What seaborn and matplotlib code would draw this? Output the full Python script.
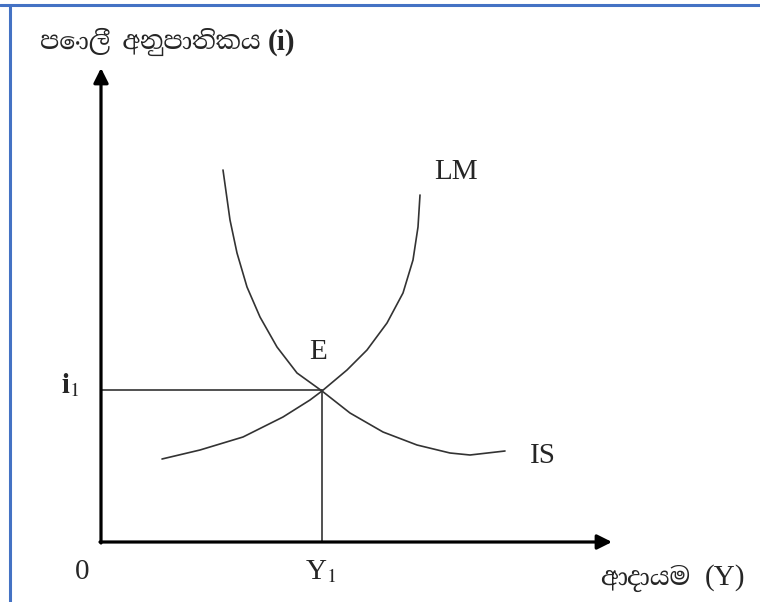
import matplotlib
matplotlib.use('Agg')
import matplotlib.pyplot as plt
import seaborn as sns
import pandas as pd
from matplotlib import font_manager

# IS-LM diagram, coordinates measured from the origin
lm_x = [61, 99, 142, 182, 209, 221, 246, 266, 286, 302, 312, 317, 319]
lm_y = [83, 92, 105, 125, 142, 151, 172, 192, 219, 249, 282, 315, 347]
is_x = [122, 129, 136, 146, 159, 176, 196, 221, 249, 282, 316, 349, 369, 404]
is_y = [372, 322, 289, 255, 225, 195, 169, 151, 129, 110, 97, 89, 87, 91]
eq_y1 = 221
eq_i1 = 152

y_label = 'පොලී අනුපාතිකය'
x_label = 'ආදායම'

sns.set_style('white')
names = sorted({f.name for f in font_manager.fontManager.ttflist})
sinhala = [n for n in names if 'Sinhala' in n]
print(sinhala)
sinhala.sort(key=lambda n: 'Serif' not in n)
plt.rcParams['font.family'] = ['Liberation Serif', 'DejaVu Serif']
plt.rcParams['mathtext.fontset'] = 'stix'

curves = pd.concat([
    pd.DataFrame({'x': lm_x, 'y': lm_y, 'curve': 'LM'}),
    pd.DataFrame({'x': is_x, 'y': is_y, 'curve': 'IS'}),
])

fig = plt.figure(figsize=(7.6, 6.02), dpi=100)
ax = fig.add_axes([0, 0, 1, 1])
ax.set_xlim(-101, 659)
ax.set_ylim(-60, 542)
ax.axis('off')

sns.lineplot(data=curves, x='x', y='y', hue='curve', palette=['#333333', '#333333'],
             sort=False, estimator=None, linewidth=1.2, legend=False, ax=ax)

# guide lines to the equilibrium
ax.plot([0, eq_y1], [eq_i1, eq_i1], color='#333333', lw=1.2)
ax.plot([eq_y1, eq_y1], [0, eq_i1], color='#333333', lw=1.2)

# axes with arrow heads
arrow = dict(arrowstyle='-|>', lw=2.3, color='black', mutation_scale=22, shrinkA=0, shrinkB=0)
ax.annotate('', xy=(0, 474), xytext=(0, -1), arrowprops=arrow)
ax.annotate('', xy=(511, 0), xytext=(-1, 0), arrowprops=arrow)

fs = 21
ax.text(355, 370, 'LM', fontsize=fs, ha='center', va='center')
ax.text(442, 86, 'IS', fontsize=fs, ha='center', va='center')
ax.text(217, 190, 'E', fontsize=fs, ha='center', va='center')
ax.text(-31, 157, r'$\mathbf{i}_1$', fontsize=fs, ha='center', va='center')
ax.text(220, -30, r'Y$_1$', fontsize=fs, ha='center', va='center')
ax.text(-19, -30, '0', fontsize=fs, ha='center', va='center')

sin_fam = sinhala + ['DejaVu Sans']
ax.text(-61, 500, y_label, fontsize=18, family=sin_fam, ha='left', va='center')
ax.text(194, 500, '(i)', fontsize=fs, fontweight='bold', ha='right', va='center')
ax.text(499, -36, x_label, fontsize=18, family=sin_fam, ha='left', va='center')
ax.text(644, -36, '(Y)', fontsize=fs, ha='right', va='center')

# blue frame on top and left
fig.add_artist(plt.Line2D([0, 1], [1 - 5 / 602, 1 - 5 / 602], color='#4472C4', lw=2.2))
fig.add_artist(plt.Line2D([10 / 760, 10 / 760], [0, 1 - 5 / 602], color='#4472C4', lw=2.2))

fig.savefig('out.png', dpi=100)
